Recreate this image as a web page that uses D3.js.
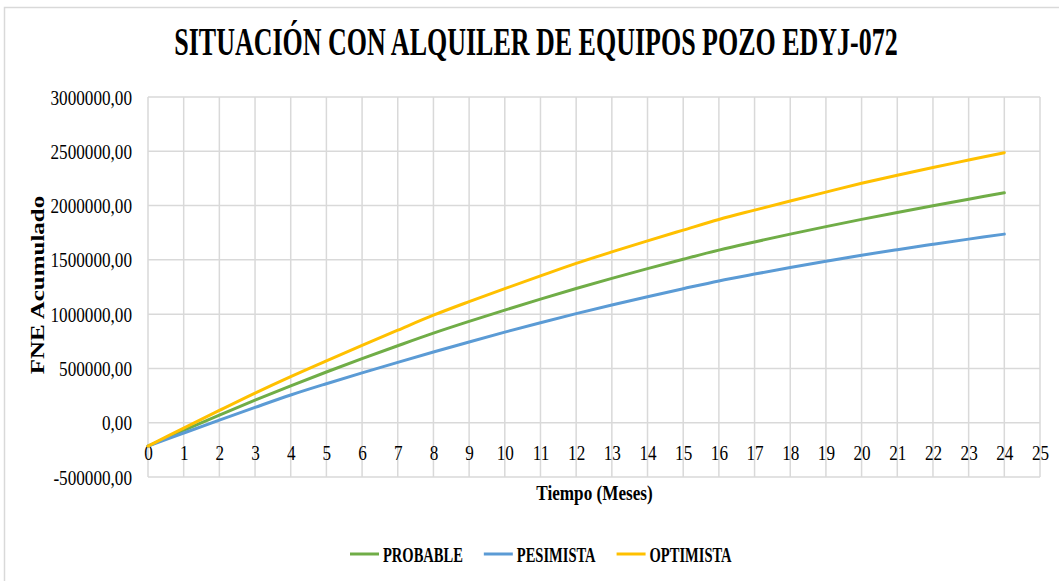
<!DOCTYPE html>
<html>
<head>
<meta charset="utf-8">
<script src="https://cdn.jsdelivr.net/npm/d3@7"></script>
<style>
  body { margin: 0; background: #fff; }
  svg { display: block; }
  text { font-family: "Liberation Serif", "Times New Roman", serif; fill: #000; }
</style>
</head>
<body>
<svg id="chart" width="1059" height="581"></svg>
<script>
// Months of the cash-flow projection
const meses = [0, 1, 2, 3, 4, 5, 6, 7, 8, 9, 10, 11, 12, 13, 14, 15, 16, 17, 18, 19, 20, 21, 22, 23, 24];

// Cumulative net cash flow (FNE) per scenario
const probable = [-215000, -70000, 71000, 208000, 340000, 467000, 590000, 709000, 825000, 933000,
  1037000, 1138000, 1236000, 1329000, 1419000, 1506000, 1590000, 1665000, 1737000, 1806000,
  1873000, 1937000, 1999000, 2059000, 2118000];
const pesimista = [-215000, -95000, 24000, 141000, 255000, 359000, 459000, 556000, 651000, 744000,
  834000, 921000, 1005000, 1084000, 1160000, 1234000, 1306000, 1369000, 1429000, 1487000,
  1543000, 1594000, 1643000, 1691000, 1737000];
const optimista = [-215000, -50000, 113000, 273000, 425000, 570000, 712000, 852000, 990000, 1115000,
  1235000, 1352000, 1467000, 1573000, 1675000, 1774000, 1872000, 1958000, 2042000, 2124000,
  2205000, 2280000, 2351000, 2419000, 2487000];

// Axis ticks
const xTicks = [0, 1, 2, 3, 4, 5, 6, 7, 8, 9, 10, 11, 12, 13, 14, 15, 16, 17, 18, 19, 20, 21, 22, 23, 24, 25];
const yTicks = [-500000, 0, 500000, 1000000, 1500000, 2000000, 2500000, 3000000];

const titulo = "SITUACIÓN CON ALQUILER DE EQUIPOS POZO EDYJ-072";
const tituloX = "Tiempo (Meses)";
const tituloY = "FNE Acumulado";

const series = [
  { name: "PROBABLE", values: probable, color: "#70ad47" },
  { name: "PESIMISTA", values: pesimista, color: "#5b9bd5" },
  { name: "OPTIMISTA", values: optimista, color: "#ffc000" }
];

const SX = 0.78;          // horizontal condensing applied to the lettering
const SX_LEG = 0.66;      // legend lettering is set narrower
const GRID = "#d9d9d9";

const svg = d3.select("#chart");

// Chart area frame
svg.append("rect")
  .attr("x", 4.5).attr("y", 7.5)
  .attr("width", 1080).attr("height", 600)
  .attr("fill", "#fff").attr("stroke", GRID).attr("stroke-width", 1.5);

const x = d3.scaleLinear().domain([0, 25]).range([148, 1040]);
const y = d3.scaleLinear().domain([-500000, 3000000]).range([477, 97]);

// Gridlines
const grid = svg.append("g").attr("stroke", GRID).attr("stroke-width", 1.5);
grid.selectAll("line.v").data(xTicks).join("line").attr("class", "v")
  .attr("x1", d => x(d)).attr("x2", d => x(d))
  .attr("y1", y(3000000)).attr("y2", y(-500000));
grid.selectAll("line.h").data(yTicks).join("line").attr("class", "h")
  .attr("x1", x(0)).attr("x2", x(25))
  .attr("y1", d => y(d)).attr("y2", d => y(d));

// Y axis labels
const fmtY = v => d3.format(".2f")(v).replace(".", ",").replace("\u2212", "-");
const yAxis = svg.append("g")
  .attr("transform", `translate(${x(0)},0)`)
  .call(d3.axisLeft(y).tickValues(yTicks).tickSize(0).tickPadding(16).tickFormat(fmtY));
yAxis.select(".domain").remove();
yAxis.selectAll("text")
  .attr("font-family", "Liberation Serif, Times New Roman, serif")
  .attr("font-size", 22)
  .attr("fill", "#000")
  .attr("x", -16 / SX)
  .attr("transform", `scale(${SX},1)`);

// X axis labels
const xAxis = svg.append("g")
  .attr("transform", "translate(0,452)")
  .call(d3.axisBottom(x).tickValues(xTicks).tickSize(0).tickPadding(0).tickFormat(d3.format("d")));
xAxis.select(".domain").remove();
xAxis.selectAll("text")
  .attr("font-family", "Liberation Serif, Times New Roman, serif")
  .attr("font-size", 22)
  .attr("fill", "#000")
  .attr("y", 0).attr("dy", "0.35em")
  .attr("transform", `scale(${SX},1)`);

// Series lines
const line = d3.line()
  .x((d, i) => x(meses[i]))
  .y(d => y(d))
  .curve(d3.curveCatmullRom.alpha(0.5));

svg.append("g").selectAll("path").data(series).join("path")
  .attr("d", d => line(d.values))
  .attr("fill", "none")
  .attr("stroke", d => d.color)
  .attr("stroke-width", 3)
  .attr("stroke-linejoin", "round")
  .attr("stroke-linecap", "round");

// Title, condensed to its box width
const title = svg.append("text")
  .attr("text-anchor", "middle")
  .attr("font-size", 39).attr("font-weight", "bold")
  .text(titulo);
const tw = title.node().getComputedTextLength();
title.attr("transform", `translate(536,55) scale(${724 / tw},1)`);

// Axis titles
svg.append("text")
  .attr("transform", `translate(594.5,500) scale(${SX},1)`)
  .attr("text-anchor", "middle")
  .attr("font-size", 22).attr("font-weight", "bold")
  .text(tituloX);

svg.append("text")
  .attr("transform", `translate(43.5,285) scale(${SX},1) rotate(-90)`)
  .attr("text-anchor", "middle")
  .attr("font-size", 25).attr("font-weight", "bold")
  .text(tituloY);

// Legend
const legend = svg.append("g");
let lx = 350;
series.forEach(s => {
  legend.append("line")
    .attr("x1", lx).attr("x2", lx + 29)
    .attr("y1", 554).attr("y2", 554)
    .attr("stroke", s.color).attr("stroke-width", 3);
  const t = legend.append("text")
    .attr("transform", `translate(${lx + 33},561.5) scale(${SX_LEG},1)`)
    .attr("font-size", 22).attr("font-weight", "bold")
    .text(s.name);
  const w = t.node().getComputedTextLength() * SX_LEG;
  lx = lx + 33 + w + 21;
});
</script>
</body>
</html>
